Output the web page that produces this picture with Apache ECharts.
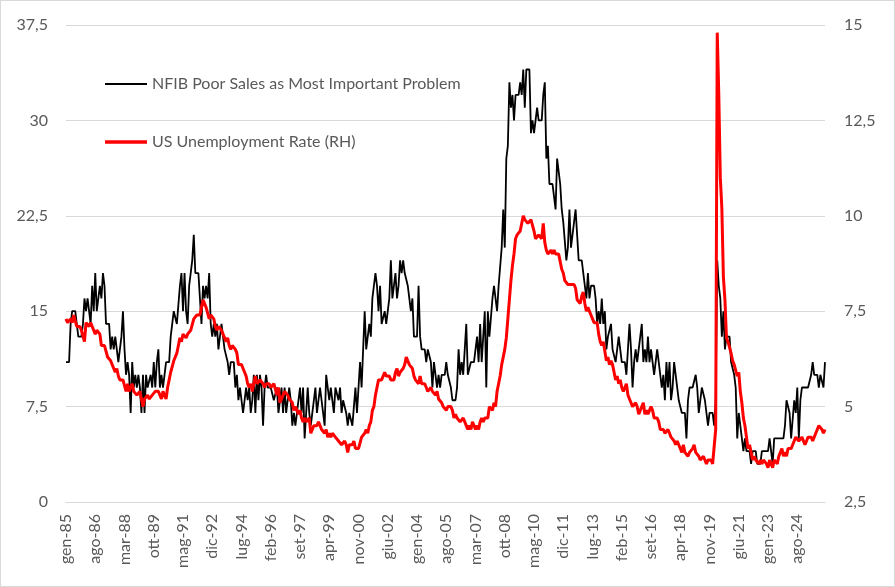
<!DOCTYPE html>
<html>
<head>
    <meta charset="utf-8">
    <title>NFIB Poor Sales vs US Unemployment</title>
    <script src="https://cdn.jsdelivr.net/npm/echarts@6/dist/echarts.min.js"></script>
    <style>
        html, body {
            margin: 0;
            padding: 0;
            background: #fff;
        }

        #chart {
            width: 895px;
            height: 587px;
            box-sizing: border-box;
            border: 1px solid #d9d9d9;
        }
    </style>
</head>

<body>
    <div id="chart"></div>

    <script>
        // monthly data, gen-85 onwards
        var startYear = 1985;
        var monthNames = ['gen', 'feb', 'mar', 'apr', 'mag', 'giu', 'lug', 'ago', 'set', 'ott', 'nov', 'dic'];

        // NFIB: % citing poor sales as single most important problem (left axis)
        var poorSales = [
            11, 11, 11, 14, 15, 15, 15, 15, 13, 13, 13, 14,   // 1985
            16, 15, 16, 16, 14, 17, 15, 18, 15, 16, 17, 16,   // 1986
            18, 17, 14, 14, 14, 12, 13, 12, 13, 13, 11, 12,   // 1987
            13, 15, 12, 10, 11, 10, 7, 11, 9, 10, 9, 10,      // 1988
            9, 7, 10, 7, 10, 9, 9, 10, 9, 11, 9, 11,          // 1989
            12, 9, 10, 9, 10, 11, 11, 11, 13, 14, 15, 15,     // 1990
            14, 14, 17, 18, 15, 18, 15, 14, 17, 18, 19, 21,   // 1991
            18, 18, 18, 16, 14, 17, 16, 17, 16, 18, 14, 13,   // 1992
            14, 13, 14, 12, 13, 14, 13, 12, 12, 11, 10, 11,   // 1993
            11, 11, 9, 10, 8, 9, 9, 7, 8, 9, 8, 9,            // 1994
            7, 8, 10, 7, 10, 8, 10, 9, 6, 9, 10, 9,           // 1995
            9, 9, 9, 8, 8, 9, 7, 7, 9, 7, 9, 7,               // 1996
            8, 9, 8, 6, 7, 6, 7, 8, 9, 7, 9, 5,               // 1997
            7, 9, 7, 6, 7, 8, 9, 7, 8, 9, 8, 7,               // 1998
            6, 10, 10, 8, 9, 9, 7, 9, 9, 8, 9, 7,             // 1999
            8, 8, 7, 6, 7, 7, 6, 6, 9, 7, 9, 11,              // 2000
            9, 12, 15, 12, 13, 14, 13, 16, 17, 18, 17, 15,    // 2001
            17, 14, 14, 15, 14, 15, 16, 19, 16, 17, 18, 16,   // 2002
            17, 19, 18, 19, 18, 18, 17, 16, 15, 16, 13, 13,   // 2003
            13, 17, 13, 12, 12, 12, 11, 12, 12, 11, 9, 11,    // 2004
            11, 9, 10, 9, 10, 10, 10, 11, 10, 10, 9, 8,       // 2005
            8, 8, 9, 12, 10, 11, 10, 10, 14, 10, 10, 11,      // 2006
            11, 11, 11, 13, 11, 14, 11, 13, 15, 9, 15, 13,    // 2007
            13, 16, 17, 17, 15, 17, 17, 20, 23, 20, 27, 28,   // 2008
            33, 31, 32, 30, 32, 32, 32, 33, 32, 34, 31, 34,   // 2009
            34, 34, 29, 30, 29, 30, 31, 30, 30, 30, 32, 33,   // 2010
            27, 28, 25, 25, 25, 24, 23, 27, 26, 25, 23, 22,   // 2011
            22, 19, 20, 23, 20, 20, 22, 23, 21, 19, 19, 19,   // 2012
            18, 17, 16, 18, 16, 17, 17, 17, 16, 14, 15, 14,   // 2013
            16, 14, 15, 12, 13, 13, 14, 12, 12, 11, 11, 13,   // 2014
            12, 11, 11, 11, 10, 10, 14, 12, 9, 11, 12, 11,    // 2015
            12, 13, 14, 11, 12, 11, 13, 11, 12, 12, 10, 10,   // 2016
            12, 12, 10, 9, 10, 8, 11, 9, 11, 8, 9, 11,        // 2017
            11, 9, 8, 8, 7, 7, 7, 5, 8, 9, 9, 9,              // 2018
            9, 10, 9, 7, 7, 9, 9, 8, 8, 6, 7, 7,              // 2019
            7, 6, 8, 19, 17, 16, 13, 15, 12, 13, 13, 13,      // 2020
            11, 11, 10, 9, 5, 7, 6, 6, 4, 5, 4, 4,            // 2021
            4, 3, 4, 4, 4, 3, 3, 3, 4, 4, 4, 4,               // 2022
            4, 5, 5, 3, 5, 5, 5, 5, 5, 5, 5, 6,               // 2023
            8, 8, 7, 5, 5, 8, 7, 9, 5, 8, 9, 9,               // 2024
            9, 9, 9, 9, 10, 11, 10, 10, 10, 9, 10, 10,        // 2025
            9, 11                                             // 2026
        ];

        // US unemployment rate, % (right axis)
        var unemployment = [
            7.3, 7.2, 7.2, 7.3, 7.2, 7.4, 7.4, 7.1, 7.1, 7.1, 7.0, 7.0,   // 1985
            6.7, 7.2, 7.2, 7.1, 7.2, 7.2, 7.0, 6.9, 7.0, 7.0, 6.9, 6.6,   // 1986
            6.6, 6.6, 6.6, 6.3, 6.3, 6.2, 6.1, 6.0, 5.9, 6.0, 5.8, 5.7,   // 1987
            5.7, 5.7, 5.7, 5.4, 5.6, 5.4, 5.4, 5.6, 5.4, 5.4, 5.3, 5.3,   // 1988
            5.4, 5.2, 5.0, 5.2, 5.2, 5.3, 5.2, 5.2, 5.3, 5.3, 5.4, 5.4,   // 1989
            5.4, 5.3, 5.2, 5.4, 5.4, 5.2, 5.5, 5.7, 5.9, 5.9, 6.2, 6.3,   // 1990
            6.4, 6.6, 6.8, 6.7, 6.9, 6.9, 6.8, 6.9, 6.9, 7.0, 7.0, 7.3,   // 1991
            7.3, 7.4, 7.4, 7.4, 7.6, 7.8, 7.7, 7.6, 7.6, 7.3, 7.4, 7.4,   // 1992
            7.3, 7.1, 7.0, 7.1, 7.1, 7.0, 6.9, 6.8, 6.7, 6.8, 6.6, 6.5,   // 1993
            6.6, 6.6, 6.5, 6.4, 6.1, 6.1, 6.1, 6.0, 5.9, 5.8, 5.6, 5.5,   // 1994
            5.6, 5.4, 5.4, 5.8, 5.6, 5.6, 5.7, 5.7, 5.6, 5.5, 5.6, 5.6,   // 1995
            5.6, 5.5, 5.5, 5.6, 5.6, 5.3, 5.5, 5.1, 5.2, 5.2, 5.4, 5.4,   // 1996
            5.3, 5.2, 5.2, 5.1, 4.9, 5.0, 4.9, 4.8, 4.9, 4.7, 4.6, 4.7,   // 1997
            4.6, 4.6, 4.7, 4.3, 4.4, 4.5, 4.5, 4.5, 4.6, 4.5, 4.4, 4.4,   // 1998
            4.3, 4.4, 4.2, 4.3, 4.2, 4.3, 4.3, 4.2, 4.2, 4.1, 4.1, 4.0,   // 1999
            4.0, 4.1, 4.0, 3.8, 4.0, 4.0, 4.0, 4.1, 3.9, 3.9, 3.9, 3.9,   // 2000
            4.2, 4.2, 4.3, 4.4, 4.3, 4.5, 4.6, 4.9, 5.0, 5.3, 5.5, 5.7,   // 2001
            5.7, 5.7, 5.7, 5.9, 5.8, 5.8, 5.8, 5.7, 5.7, 5.7, 5.9, 6.0,   // 2002
            5.8, 5.9, 5.9, 6.0, 6.1, 6.3, 6.2, 6.1, 6.1, 6.0, 5.8, 5.7,   // 2003
            5.7, 5.6, 5.8, 5.6, 5.6, 5.6, 5.5, 5.4, 5.4, 5.5, 5.4, 5.4,   // 2004
            5.3, 5.4, 5.2, 5.2, 5.1, 5.0, 5.0, 4.9, 5.0, 5.0, 5.0, 4.9,   // 2005
            4.7, 4.8, 4.7, 4.7, 4.6, 4.6, 4.7, 4.7, 4.5, 4.4, 4.5, 4.4,   // 2006
            4.6, 4.5, 4.4, 4.5, 4.4, 4.6, 4.7, 4.6, 4.7, 4.7, 4.7, 5.0,   // 2007
            5.0, 4.9, 5.1, 5.0, 5.4, 5.6, 5.8, 6.1, 6.1, 6.5, 6.8, 7.3,   // 2008
            7.8, 8.3, 8.7, 9.0, 9.4, 9.5, 9.5, 9.6, 9.8, 10.0, 9.9, 9.9,  // 2009
            9.8, 9.8, 9.9, 9.9, 9.6, 9.4, 9.4, 9.5, 9.5, 9.4, 9.8, 9.3,   // 2010
            9.1, 9.0, 9.0, 9.1, 9.0, 9.1, 9.0, 9.0, 9.0, 8.8, 8.6, 8.5,   // 2011
            8.3, 8.3, 8.2, 8.2, 8.2, 8.2, 8.2, 8.1, 7.8, 7.8, 7.7, 7.9,   // 2012
            8.0, 7.7, 7.5, 7.6, 7.5, 7.5, 7.3, 7.2, 7.2, 7.2, 6.9, 6.7,   // 2013
            6.6, 6.7, 6.7, 6.2, 6.3, 6.1, 6.2, 6.1, 5.9, 5.7, 5.8, 5.6,   // 2014
            5.7, 5.5, 5.4, 5.4, 5.6, 5.3, 5.2, 5.1, 5.0, 5.0, 5.1, 5.0,   // 2015
            4.8, 4.9, 5.0, 5.1, 4.8, 4.9, 4.8, 4.9, 5.0, 4.9, 4.7, 4.7,   // 2016
            4.7, 4.6, 4.4, 4.4, 4.4, 4.3, 4.3, 4.4, 4.3, 4.2, 4.2, 4.1,   // 2017
            4.0, 4.1, 4.0, 4.0, 3.8, 4.0, 3.8, 3.8, 3.7, 3.8, 3.8, 3.9,   // 2018
            4.0, 3.8, 3.8, 3.7, 3.6, 3.6, 3.7, 3.6, 3.5, 3.6, 3.6, 3.6,   // 2019
            3.5, 3.5, 4.4, 14.8, 13.2, 11.0, 10.2, 8.4, 7.8, 6.8, 6.7, 6.7, // 2020
            6.4, 6.2, 6.1, 6.1, 5.8, 5.9, 5.4, 5.1, 4.7, 4.5, 4.2, 3.9,   // 2021
            4.0, 3.8, 3.6, 3.7, 3.6, 3.6, 3.5, 3.6, 3.5, 3.6, 3.6, 3.5,   // 2022
            3.4, 3.6, 3.5, 3.4, 3.6, 3.6, 3.5, 3.7, 3.8, 3.9, 3.7, 3.8,   // 2023
            3.7, 3.9, 3.9, 3.9, 4.0, 4.1, 4.2, 4.2, 4.1, 4.1, 4.2, 4.1,   // 2024
            4.0, 4.1, 4.2, 4.2, 4.2, 4.1, 4.2, 4.3, 4.4, 4.5, 4.5, 4.4,   // 2025
            4.3, 4.4                                                      // 2026
        ];

        var leftAxis = { min: 0, max: 37.5, step: 7.5 };
        var rightAxis = { min: 2.5, max: 15, step: 2.5 };

        var categories = poorSales.map(function (v, i) {
            var yy = (startYear + Math.floor(i / 12)) % 100;
            return monthNames[i % 12] + '-' + (yy < 10 ? '0' + yy : '' + yy);
        });

        function commaDecimal(v) {
            return String(v).replace('.', ',');
        }

        var labelColor = '#595959';
        var gridColor = '#d9d9d9';
        var fontFamily = 'Lato, "Open Sans", sans-serif';

        var legendText = { color: labelColor, fontSize: 16, fontFamily: fontFamily };

        var chart = echarts.init(document.getElementById('chart'));

        chart.setOption({
            animation: false,
            textStyle: { fontFamily: fontFamily },
            grid: { left: 65, right: 69, top: 24, bottom: 84 },
            legend: [
                {
                    data: [{ name: 'NFIB Poor Sales as Most Important Problem', icon: 'rect' }],
                    left: 99, top: 70,
                    itemWidth: 42, itemHeight: 2,
                    textStyle: legendText
                },
                {
                    data: [{ name: 'US Unemployment Rate (RH)', icon: 'rect' }],
                    left: 99, top: 128,
                    itemWidth: 42, itemHeight: 3.5,
                    textStyle: legendText
                }
            ],
            xAxis: {
                type: 'category',
                data: categories,
                boundaryGap: false,
                axisTick: { show: false },
                axisLine: { show: true, lineStyle: { color: gridColor, width: 1 } },
                axisLabel: {
                    interval: 18,
                    rotate: 90,
                    margin: 12,
                    color: labelColor,
                    fontSize: 16,
                    fontFamily: fontFamily
                },
                splitLine: { show: false }
            },
            yAxis: [
                {
                    type: 'value',
                    min: leftAxis.min, max: leftAxis.max, interval: leftAxis.step,
                    axisLine: { show: false },
                    axisTick: { show: false },
                    axisLabel: { color: labelColor, fontSize: 16, margin: 18, formatter: commaDecimal, fontFamily: fontFamily },
                    splitLine: { lineStyle: { color: gridColor, width: 1 } }
                },
                {
                    type: 'value',
                    min: rightAxis.min, max: rightAxis.max, interval: rightAxis.step,
                    axisLine: { show: false },
                    axisTick: { show: false },
                    axisLabel: { color: labelColor, fontSize: 16, margin: 19, formatter: commaDecimal, fontFamily: fontFamily },
                    splitLine: { show: false }
                }
            ],
            series: [
                {
                    name: 'NFIB Poor Sales as Most Important Problem',
                    type: 'line',
                    yAxisIndex: 0,
                    data: poorSales,
                    symbol: 'none',
                    color: '#000000',
                    lineStyle: { color: '#000000', width: 1.8 }
                },
                {
                    name: 'US Unemployment Rate (RH)',
                    type: 'line',
                    yAxisIndex: 1,
                    data: unemployment,
                    symbol: 'none',
                    color: '#ff0000',
                    lineStyle: { color: '#ff0000', width: 3 }
                }
            ]
        });
    </script>

</body>

</html>
